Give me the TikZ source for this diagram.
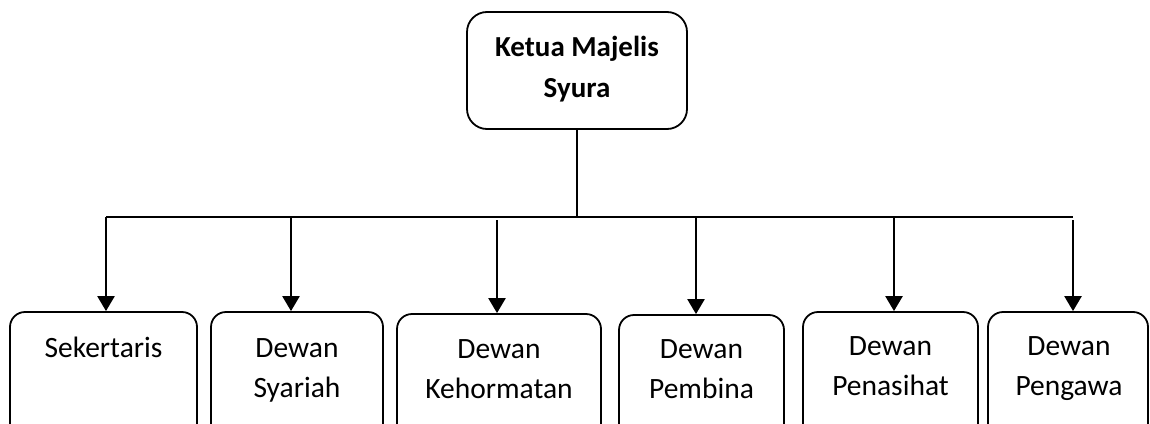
\documentclass[tikz,border=0pt]{standalone}
\usepackage{fontspec}
\setmainfont{Carlito}
\usetikzlibrary{arrows.meta}
\begin{document}
\begin{tikzpicture}[x=1pt,y=-1pt,
  box/.style={draw, line width=1.8pt, rounded corners=15pt, inner sep=0pt},
  headbox/.style={box, rounded corners=20pt},
  lbl/.style={font=\fontsize{29.5}{40}\selectfont, align=center, inner sep=0pt, anchor=base},
  headlbl/.style={lbl, font=\fontsize{29}{41}\selectfont\bfseries},
  feed/.style={line width=2.4pt, -{Triangle[width=17pt,length=15pt]}},
  bar/.style={line width=1.7pt}]
\clip (0,0) rectangle (1150,423);

% head of the organisation
\node[headbox, minimum width=220pt, minimum height=117pt] (head) at (577,70.5) {};
% the base anchor of a multi-line label sits on its last line
\node[headlbl] (headtext) at (577,97) {Ketua Majelis\\Syura};

% subordinate units (their lower edges run past the page)
\node[box, minimum width=187pt, minimum height=138pt] (b1) at (103.5,381) {};
\node[box, minimum width=172pt, minimum height=138pt] (b2) at (297,381) {};
\node[box, minimum width=204pt, minimum height=138pt] (b3) at (499,383) {};
\node[box, minimum width=165pt, minimum height=138pt] (b4) at (701.5,384) {};
\node[box, minimum width=175pt, minimum height=138pt] (b5) at (890.5,381) {};
\node[box, minimum width=160pt, minimum height=138pt] (b6) at (1068,381) {};

\node[lbl] (t1) at (103.5,357) {Sekertaris};
\node[lbl] (t2) at (297,397) {Dewan\\Syariah};
\node[lbl] (t3) at (499,398) {Dewan\\Kehormatan};
\node[lbl] (t4) at (701.5,398) {Dewan\\Pembina};
\node[lbl] (t5) at (890.5,395) {Dewan\\Penasihat};
\node[lbl] (t6) at (1069,395) {Dewan\\Pengawa};

% distribution bus
\coordinate (j1) at (106,217);
\coordinate (j2) at (291,217);
\coordinate (j3) at (497,220);
\coordinate (j4) at (696,217);
\coordinate (j5) at (894,217);
\coordinate (j6) at (1073,220);
\coordinate (jc) at (577,217);
\coordinate (busend) at (1073,217);

\draw[line width=2pt] (head.south) -- (jc);
\draw[bar] (j1) -- (busend);

\draw[feed] (j1) -- (j1 |- b1.north);
\draw[feed] (j2) -- (j2 |- b2.north);
\draw[feed] (j3) -- (j3 |- b3.north);
\draw[feed] (j4) -- (j4 |- b4.north);
\draw[feed] (j5) -- (j5 |- b5.north);
\draw[feed] (j6) -- (j6 |- b6.north);
\end{tikzpicture}
\end{document}
